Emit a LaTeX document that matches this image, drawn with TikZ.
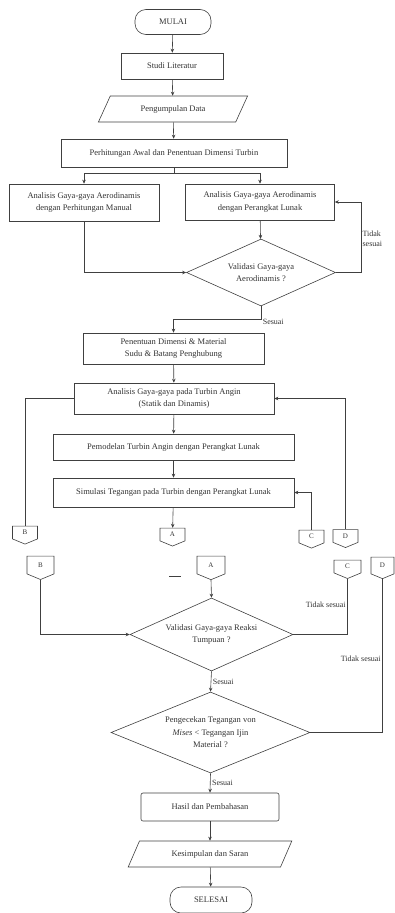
\documentclass[tikz,border=0pt]{standalone}
\usepackage{fontspec}
\setmainfont{Liberation Serif}
\usepackage{tikz}
\usetikzlibrary{positioning,calc,arrows.meta,shapes.geometric,shapes.symbols}

\begin{document}
\begin{tikzpicture}[
  x=1pt, y=-1pt,
  line width=0.6pt, draw=black!75,
  every node/.style={font=\fontsize{8.5}{12.5}\selectfont, text=black!80},
  term/.style={draw, rounded corners=11pt, minimum width=76pt, minimum height=25pt, inner sep=1pt},
  box/.style={draw, minimum height=26pt, inner sep=1pt, align=center},
  io/.style={draw, trapezium, trapezium left angle=57, trapezium right angle=123,
             trapezium stretches=true, minimum height=26pt, inner sep=1pt},
  dec/.style={draw, diamond, inner sep=0pt, align=center},
  offpg/.style={draw, signal, signal to=south, signal pointer angle=135,
                minimum width=25pt, minimum height=14pt, inner sep=0.5pt,
                font=\fontsize{7}{8}\selectfont},
  lbl/.style={font=\fontsize{8}{10}\selectfont, inner sep=1.5pt},
  arr/.style={-{Stealth[length=4pt,width=3.5pt]}}
]
  \useasboundingbox (0,0) rectangle (394,913);

  % Bagian atas
  \node[term] (mulai) at (173,22) {MULAI};
  \node[box, minimum width=102pt] (studi) at (172,66) {Studi Literatur};
  \node[io, minimum width=150pt] (data) at (173,109) {Pengumpulan Data};
  \node[box, minimum width=226pt, minimum height=28pt] (hitung) at (174,153)
    {Perhitungan Awal dan Penentuan Dimensi Turbin};
  \node[box, minimum width=150pt, minimum height=37pt] (manual) at (84,202.5)
    {Analisis Gaya-gaya Aerodinamis\\dengan Perhitungan Manual};
  \node[box, minimum width=149pt, minimum height=36pt] (lunak) at (260,202)
    {Analisis Gaya-gaya Aerodinamis\\dengan Perangkat Lunak};
  \node[dec, shape aspect=2.2, minimum width=149pt, minimum height=67pt] (val1) at (261,272.5)
    {Validasi Gaya-gaya\\Aerodinamis ?};

  % Bagian tengah
  \node[box, minimum width=181pt, minimum height=31pt] (dimensi) at (173.5,348.5)
    {Penentuan Dimensi \& Material\\Sudu \& Batang Penghubung};
  \node[box, minimum width=200pt, minimum height=31pt] (gaya) at (174,398.5)
    {Analisis Gaya-gaya pada Turbin Angin\\(Statik dan Dinamis)};
  \node[box, minimum width=241pt] (model) at (173.5,447)
    {Pemodelan Turbin Angin dengan Perangkat Lunak};
  \node[box, minimum width=241pt, minimum height=29pt] (simul) at (173.5,492.5)
    {Simulasi Tegangan pada Turbin dengan Perangkat Lunak};

  % Penghubung halaman
  \node[offpg] (B1) at (25,532.5) {B};
  \node[offpg] (A1) at (172.5,534.5) {A};
  \node[offpg] (C1) at (311.5,536.5) {C};
  \node[offpg] (D1) at (345.5,536) {D};
  \node[offpg, minimum width=27pt, minimum height=19pt] (B2) at (40.5,565) {B};
  \node[offpg, minimum width=28pt, minimum height=19pt] (A2) at (211,565) {A};
  \node[offpg, minimum width=27pt] (C2) at (347.5,566.5) {C};
  \node[offpg, minimum width=23pt, minimum height=18pt] (D2) at (382.5,565.5) {D};
  \draw (169,576) -- (181,576);

  % Bagian bawah
  \node[dec, shape aspect=2.23, minimum width=163pt, minimum height=73pt] (val2) at (211.5,634.5)
    {Validasi Gaya-gaya Reaksi\\Tumpuan ?};
  \node[dec, shape aspect=2.45, minimum width=199pt, minimum height=81pt] (cek) at (210.5,732.5)
    {Pengecekan Tegangan von\\\textit{Mises} < Tegangan Ijin\\Material ?};
  \node[box, rounded corners=2pt, minimum width=138pt, minimum height=28pt] (hasil) at (210,807)
    {Hasil dan Pembahasan};
  \node[io, minimum width=164pt] (simpul) at (210,854) {Kesimpulan dan Saran};
  \node[term, minimum width=82pt, minimum height=26pt] (selesai) at (211,900) {SELESAI};

  \draw[arr] (mulai) -- (studi);
  \draw[arr] (studi) -- (data);
  \draw[arr] (data) -- (hitung);
  \draw[arr] (hitung.south) -- ++(0,6) -| (manual.north);
  \draw[arr] (hitung.south) -- ++(0,6) -| (lunak.north);
  \draw[arr] (lunak) -- (val1);
  \draw[arr] (manual.south) |- (val1.west);
  \draw[arr] (val1.east) -- ++(25,0) |- node[lbl, pos=0.24, anchor=west, align=left] (ts1) {Tidak\\sesuai} (lunak.east);
  \draw[arr] (val1.south) -- ++(0,13) node[lbl, anchor=west, yshift=-3pt] (s1) {Sesuai} -| (dimensi.north);
  \draw[arr] (dimensi) -- (gaya);
  \draw[arr] (gaya) -- (model);
  \draw[arr] (model) -- (simul);
  \draw[arr] (simul) -- (A1);
  \draw (gaya.west) -| (B1.north);
  \draw[arr] (D1.north) |- (gaya.east);
  \draw[arr] (C1.north) |- (simul.east);

  \draw[arr] (A2.south) -- (val2.north);
  \draw[arr] (B2.south) |- (val2.west);
  \draw (val2.east) -| node[lbl, pos=0.77, anchor=east] (ts2) {Tidak sesuai} (C2.south);
  \draw (cek.east) -| node[lbl, pos=0.74, anchor=east] (ts3) {Tidak sesuai} (D2.south);
  \draw[arr] (val2.south) -- node[lbl, right] (s2) {Sesuai} (cek.north);
  \draw[arr] (cek.south) -- node[lbl, right] (s3) {Sesuai} (hasil.north);
  \draw[arr] (hasil) -- (simpul);
  \draw[arr] (simpul) -- (selesai);
\end{tikzpicture}
\end{document}
